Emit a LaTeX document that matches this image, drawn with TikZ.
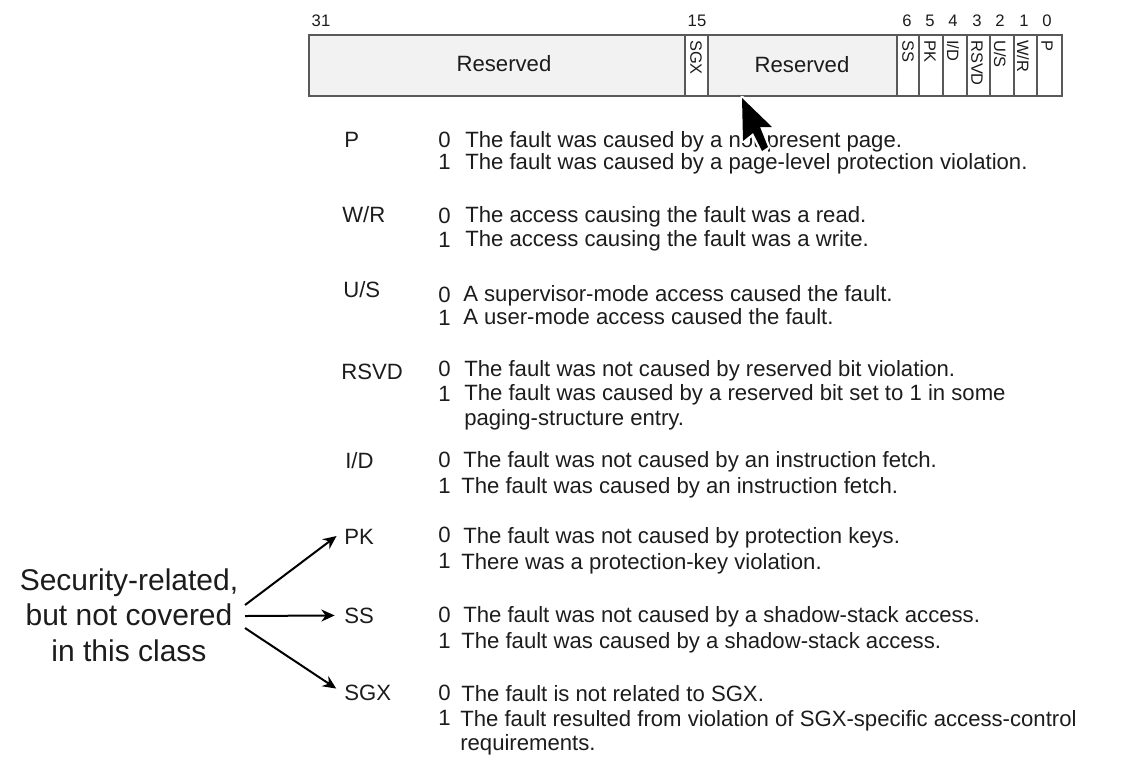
\documentclass[tikz,border=0pt]{standalone}
\usepackage{fontspec}
\setmainfont{Liberation Sans}
\usetikzlibrary{arrows.meta}
\definecolor{inkgray}{HTML}{1c1c1c}
\tikzset{every node/.style={font=\fontsize{16.6}{20}\selectfont,text=inkgray,inner sep=0pt},
  desc/.style={anchor=base west,align=left},
  flag/.style={anchor=base west},
  bitno/.style={anchor=base,font=\fontsize{12.5}{14}\selectfont},
  fieldname/.style={anchor=west,rotate=-90,font=\fontsize{12.3}{14}\selectfont},
  field/.style={draw=black!65,line width=0.9pt},
  reserved/.style={field,fill=black!5},
  pointer/.style={-{Stealth[length=10pt,width=9pt]},line width=1.5pt,black,shorten >=7pt}}

\begin{document}
\begin{tikzpicture}[x=0.75pt,y=-0.75pt]
      \useasboundingbox (0,0) rectangle (1126,769);
      % register
      \draw[reserved] (309,35) rectangle (685,96);
      \draw[reserved] (708,35) rectangle (897,96);
      \foreach\a/\b in {685/708, 897/919, 919/943, 943/967, 967/990, 990/1014, 1014/1037, 1037/1062}
        \draw[field] (\a,35) rectangle (\b,96);
      \node[anchor=base] (resa) at (504,71) {Reserved};
      \node[anchor=base] (resb) at (802,72) {Reserved};
      % bit numbers
      \node[bitno] (bit31) at (321,26) {31};
      \foreach\n/\x in {15/697, 6/907, 5/930, 4/953, 3/977, 2/1000, 1/1024, 0/1047}
        \node[bitno] (bit\n) at (\x,26) {\n};
      % field names in the register
      \foreach\t/\x in {SGX/696, SS/908, PK/930, I\slash D/953, RSVD/977, U\slash S/1000, W\slash R/1023, P/1047}
        \node[fieldname] at (\x,40) {\t};
      % rows
      \node[flag] (p) at (344,147) {P};
      \node[desc] at (438,147) {0};
      \node[desc] at (465,147) {The fault was caused by a not-present page.};
      \node[desc] at (438,169) {1};
      \node[desc] at (465,169) {The fault was caused by a page-level protection violation.};
      \node[flag] (wr) at (342,222) {W/R};
      \node[desc] at (438,223) {0};
      \node[desc] at (465,222) {The access causing the fault was a read.};
      \node[desc] at (438,247) {1};
      \node[desc] at (465,246) {The access causing the fault was a write.};
      \node[flag] (us) at (343,297) {U/S};
      \node[desc] at (438,302) {0};
      \node[desc] at (463,301) {A supervisor-mode access caused the fault.};
      \node[desc] at (438,325) {1};
      \node[desc] at (463,324) {A user-mode access caused the fault.};
      \node[flag] (rsvd) at (341,379) {RSVD};
      \node[desc] at (438,376) {0};
      \node[desc] at (464,376) {The fault was not caused by reserved bit violation.};
      \node[desc] at (438,401) {1};
      \node[desc] at (464,400) {The fault was caused by a reserved bit set to 1 in some};
      \node[desc] at (464,425) {paging-structure entry.};
      \node[flag] (id) at (345,468) {I/D};
      \node[desc] at (438,467) {0};
      \node[desc] at (463,467) {The fault was not caused by an instruction fetch.};
      \node[desc] at (438,493) {1};
      \node[desc] at (461,493) {The fault was caused by an instruction fetch.};
      \node[flag] (pk) at (344,544) {PK};
      \node[desc] at (438,542) {0};
      \node[desc] at (463,543) {The fault was not caused by protection keys.};
      \node[desc] at (438,568) {1};
      \node[desc] at (461,569) {There was a protection-key violation.};
      \node[flag] (ss) at (344,623) {SS};
      \node[desc] at (438,622) {0};
      \node[desc] at (463,622) {The fault was not caused by a shadow-stack access.};
      \node[desc] at (438,648) {1};
      \node[desc] at (461,648) {The fault was caused by a shadow-stack access.};
      \node[flag] (sgx) at (344,700) {SGX};
      \node[desc] at (438,700) {0};
      \node[desc] at (461,701) {The fault is not related to SGX.};
      \node[desc] at (438,725) {1};
      \node[desc] at (460,726) {The fault resulted from violation of SGX-specific access-control};
      \node[desc] at (460,750) {requirements.};
      % note and arrows
      \node[align=center,font=\fontsize{22.5}{26.5}\selectfont] (note) at (129,615) {Security-related,\\but not covered\\in this class};
      \coordinate (notea) at (245,605);
      \coordinate (noteb) at (245,616);
      \coordinate (notec) at (245,628);
      \draw[pointer] (notea) -- ([yshift=4.5pt]pk.west);
      \draw[pointer] (noteb) -- (ss.west);
      \draw[pointer] (notec) -- ([yshift=-1pt]sgx.west);
      % cursor
      \draw[white,line width=3.5pt,line join=round] (742,98) -- (743,141) -- (753,133) -- (762,151) -- (768,147) -- (760,127) -- (772,127) -- cycle;
      \fill[black] (742,98) -- (743,141) -- (753,133) -- (762,151) -- (768,147) -- (760,127) -- (772,127) -- cycle;
\end{tikzpicture}
\end{document}
